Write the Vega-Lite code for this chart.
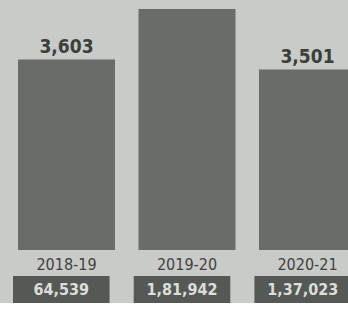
{
  "$schema": "https://vega.github.io/schema/vega-lite/v6.json",
  "background": "#c9cbc8",
  "padding": 0,
  "spacing": 4,
  "datasets": {
    "d": [
      {"year": "2018-19", "value": 3603, "label": "3,603", "total": "64,539"},
      {"year": "2019-20", "value": 4119, "label": "", "total": "1,81,942"},
      {"year": "2020-21", "value": 3501, "label": "3,501", "total": "1,37,023"}
    ]
  },
  "config": {
    "view": {"stroke": null},
    "font": "DejaVu Sans Condensed"
  },
  "resolve": {"scale": {"x": "independent"}},
  "vconcat": [
    {
      "width": 348,
      "height": 250,
      "data": {"name": "d"},
      "encoding": {
        "x": {
          "field": "year",
          "type": "nominal",
          "sort": null,
          "scale": {"range": [18, 356], "paddingInner": 0.195, "paddingOuter": 0},
          "axis": {
            "title": null,
            "domain": false,
            "ticks": false,
            "labelAngle": 0,
            "labelFontSize": 16,
            "labelPadding": 6,
            "labelColor": "#3e423e",
            "labelFont": "DejaVu Sans Condensed"
          }
        },
        "y": {
          "field": "value",
          "type": "quantitative",
          "scale": {"domain": [1660, 4211], "zero": false, "nice": false},
          "axis": null
        }
      },
      "layer": [
        {
          "mark": {"type": "bar", "color": "#696d69"},
          "encoding": {"y2": {"datum": 1660}}
        },
        {
          "transform": [{"filter": "datum.label != ''"}],
          "mark": {
            "type": "text",
            "baseline": "alphabetic",
            "dy": -7,
            "fontSize": 19,
            "fontWeight": "bold",
            "color": "#3b3f3b"
          },
          "encoding": {"text": {"field": "label"}}
        }
      ]
    },
    {
      "width": 348,
      "height": 27,
      "data": {"name": "d"},
      "encoding": {
        "x": {
          "field": "year",
          "type": "nominal",
          "sort": null,
          "scale": {"range": [13, 351], "paddingInner": 0.2, "paddingOuter": 0},
          "axis": null
        }
      },
      "layer": [
        {"mark": {"type": "bar", "color": "#555955"}},
        {
          "mark": {
            "type": "text",
            "fontSize": 16,
            "fontWeight": "bold",
            "color": "#dcdeda"
          },
          "encoding": {"text": {"field": "total"}}
        }
      ]
    }
  ]
}
